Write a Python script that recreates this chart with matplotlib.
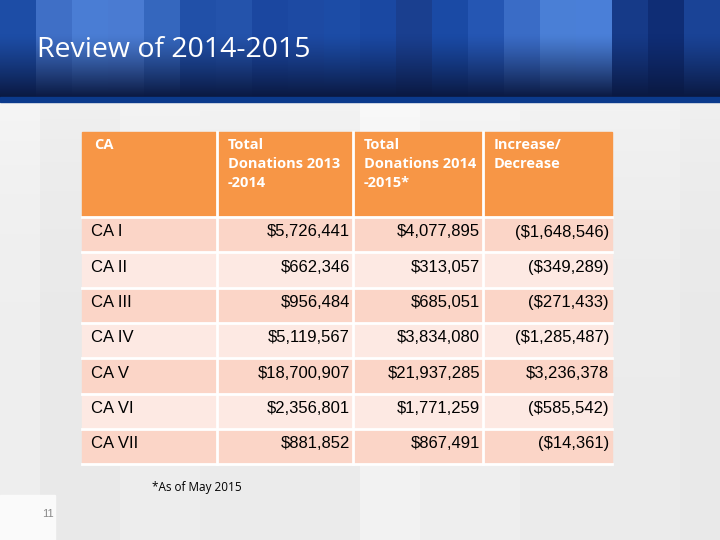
import numpy as np
import matplotlib
matplotlib.use("Agg")
import matplotlib.pyplot as plt
from matplotlib.patches import Rectangle

title = "Review of 2014-2015"
headers = ["CA", "Total\nDonations 2013\n-2014", "Total\nDonations 2014\n-2015*", "Increase/\nDecrease"]
regions = ["CA I", "CA II", "CA III", "CA IV", "CA V", "CA VI", "CA VII"]
don_2013_14 = [5726441, 662346, 956484, 5119567, 18700907, 2356801, 881852]
don_2014_15 = [4077895, 313057, 685051, 3834080, 21937285, 1771259, 867491]
footnote = "*As of May 2015"
page_no = "11"


def money(v):
    s = "${:,}".format(abs(v))
    return "(" + s + ")" if v < 0 else s


change = [b - a for a, b in zip(don_2013_14, don_2014_15)]

W, H = 720, 540
fig = plt.figure(figsize=(7.2, 5.4), dpi=100)
ax = fig.add_axes([0, 0, 1, 1])
ax.set_xlim(0, W)
ax.set_ylim(H, 0)
ax.axis("off")

# background
bg = np.ones((H, W, 3)) * 0.925
blocks = [(0, 40, 0.935), (40, 120, 0.915), (120, 200, 0.93), (360, 420, 0.95), (420, 520, 0.935),
          (600, 680, 0.925), (680, 720, 0.915)]
for x0, x1, c in blocks:
    bg[:, x0:x1, :] = c
yy = np.linspace(0, 1, H)[:, None, None]
bg = bg + (1 - yy) ** 4 * 0.06
bg = np.clip(bg, 0, 1)
ax.imshow(bg, extent=(0, W, H, 0), aspect="auto", zorder=0)

# banner
tops = ["#1d4da6", "#3f6fc6", "#4a7dd4", "#4a7bd2", "#3567be", "#2150a8", "#2453ab", "#1b47a0",
        "#1d4aa3", "#1c4ca6", "#1a48a2", "#1a3f8f", "#1a4aa5", "#2556b3", "#3a6cc6", "#4a7fd6",
        "#4a7fd8", "#163a88", "#0f2d75", "#1a4396"]
bot_col = np.array([0x0a, 0x18, 0x40]) / 255.0
bh = 98
banner = np.zeros((bh, W, 3))
t = np.linspace(0, 1, bh)[:, None]
for i, c in enumerate(tops):
    rgb = np.array(matplotlib.colors.to_rgb(c))
    x0, x1 = i * 36, (i + 1) * 36
    mix = np.clip((t - 0.35) / 0.65, 0, 1) ** 1.2
    col = rgb[None, :] * (1 - mix) + bot_col[None, :] * mix
    banner[:, x0:x1, :] = col[:, None, :] * np.ones((1, x1 - x0, 1))
ax.imshow(banner, extent=(0, W, bh, 0), aspect="auto", zorder=1)
ax.add_patch(Rectangle((0, 97), W, 5, color="#0b3a8c", zorder=2))
ax.text(37, 50, title, color="white", fontsize=20.5, family="Open Sans",
        va="center", ha="left", zorder=3)

# table
col_x = [82, 217, 353, 483, 612]
hdr_top, hdr_bot = 132, 217
row_h = 35.3
ax.add_patch(Rectangle((col_x[0], hdr_top), col_x[-1] - col_x[0], hdr_bot - hdr_top,
                       color="#f79646", zorder=2))
for j, h in enumerate(headers):
    ax.text(col_x[j] + 12 if j == 0 else col_x[j] + 11, hdr_top + 6, h, color="white",
            fontsize=10.5, fontweight="bold", family="Open Sans", va="top", ha="left",
            linespacing=1.45, zorder=4)

for i, r in enumerate(regions):
    y0 = hdr_bot + i * row_h
    fc = "#fbd5c7" if i % 2 == 0 else "#fde9e3"
    ax.add_patch(Rectangle((col_x[0], y0), col_x[-1] - col_x[0], row_h, color=fc, zorder=2))
    vals = [r, money(don_2013_14[i]), money(don_2014_15[i]), money(change[i])]
    for j, v in enumerate(vals):
        if j == 0:
            ax.text(col_x[0] + 9, y0 + 15, v, fontsize=12, family="Liberation Sans",
                    va="center", ha="left", zorder=4)
        else:
            ax.text(col_x[j + 1] - 3, y0 + 15, v, fontsize=12, family="Liberation Sans",
                    va="center", ha="right", zorder=4)

# white grid lines
table_bot = hdr_bot + len(regions) * row_h
for x in col_x[1:-1]:
    ax.plot([x, x], [hdr_top, table_bot], color="white", lw=2, zorder=3)
for i in range(len(regions) + 1):
    y = hdr_bot + i * row_h
    ax.plot([col_x[0], col_x[-1]], [y, y], color="white", lw=2, zorder=3)

ax.text(152, 487, footnote, fontsize=8.5, family="Open Sans", va="center", ha="left", zorder=4)
ax.add_patch(Rectangle((0, 495), 55, 45, color="#fafafa", zorder=2))
ax.text(54, 514, page_no, fontsize=8, color="#888888", family="Liberation Sans",
        va="center", ha="right", zorder=4)

fig.savefig("out.png", dpi=100)
